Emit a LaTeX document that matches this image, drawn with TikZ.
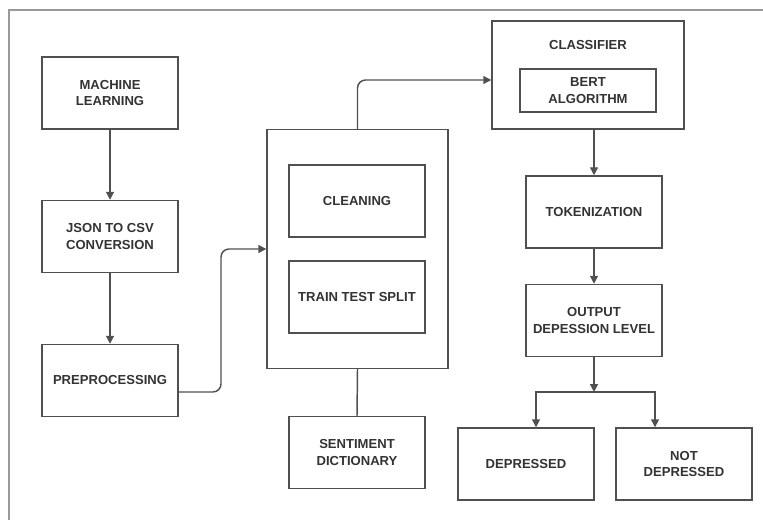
\documentclass[tikz,border=0pt]{standalone}
\usepackage{fontspec}
\setmainfont{Liberation Sans}
\usetikzlibrary{arrows.meta}
\definecolor{ln}{HTML}{505050}
\definecolor{tx}{HTML}{333333}
\definecolor{fr}{HTML}{999999}
\begin{document}
\begin{tikzpicture}[x=0.75pt,y=-0.75pt,
  box/.style={draw=ln, line width=1.1pt, align=center, text=tx,
    font=\fontsize{9.8}{12.5}\selectfont\bfseries, inner sep=0pt,
    minimum width=102pt, minimum height=54pt},
  conn/.style={draw=ln, line width=1.1pt, rounded corners=6pt},
  arr/.style={conn, -{Triangle[length=6pt,width=6pt]}}]
\useasboundingbox (0,0) rectangle (763,520);
\draw[fr, line width=0.8pt] (9,520) -- (9,10) -- (763,10);
% left column
\node[box] (ml) at (110,93) {MACHINE\\LEARNING};
\node[box] (json) at (110,236.5) {JSON TO CSV\\CONVERSION};
\node[box] (pre) at (110,380.5) {PREPROCESSING};
% middle
\node[box, minimum width=135.75pt, minimum height=179.25pt] (big) at (357.5,249) {};
\node[box] (clean) at (357,201) {CLEANING};
\node[box] (split) at (357,297) {TRAIN TEST SPLIT};
\node[box] (sent) at (357,452.5) {SENTIMENT\\DICTIONARY};
% right
\node[box, minimum width=144pt, minimum height=81pt] (cls) at (588,75) {};
\node[box, draw=none, minimum height=0pt, minimum width=0pt] (clst) at (588,45) {CLASSIFIER};
\node[box, minimum height=32.25pt] (bert) at (588,90.5) {BERT\\ALGORITHM};
\node[box] (tok) at (594,212) {TOKENIZATION};
\node[box] (out) at (594,320.5) {OUTPUT\\DEPESSION LEVEL};
\node[box] (dep) at (526,464) {DEPRESSED};
\node[box] (ndep) at (684,464) {NOT\\DEPRESSED};
% helper coordinates
\coordinate (p392) at (0,392);
\coordinate (p80) at (0,80);
\coordinate (jl) at (536,392);
\coordinate (jr) at (655,392);
\coordinate (jm) at (594,392);
% connectors
\draw[arr] (ml) -- (json);
\draw[arr] (json) -- (pre);
\draw[arr] (pre.east |- p392) -- (221,392) |- (big.west);
\draw[arr] (big.north) |- (cls.west |- p80);
\draw[conn] (big.south) -- (sent.north);
\draw[arr] (cls.south -| tok.north) -- (tok.north);
\draw[arr] (tok) -- (out);
\draw[arr, rounded corners=0pt] (out.south) -- (jm);
\draw[arr, rounded corners=0pt] (jm) -- (jl) -- (jl |- dep.north);
\draw[arr, rounded corners=0pt] (jm) -- (jr) -- (jr |- ndep.north);
\end{tikzpicture}
\end{document}
